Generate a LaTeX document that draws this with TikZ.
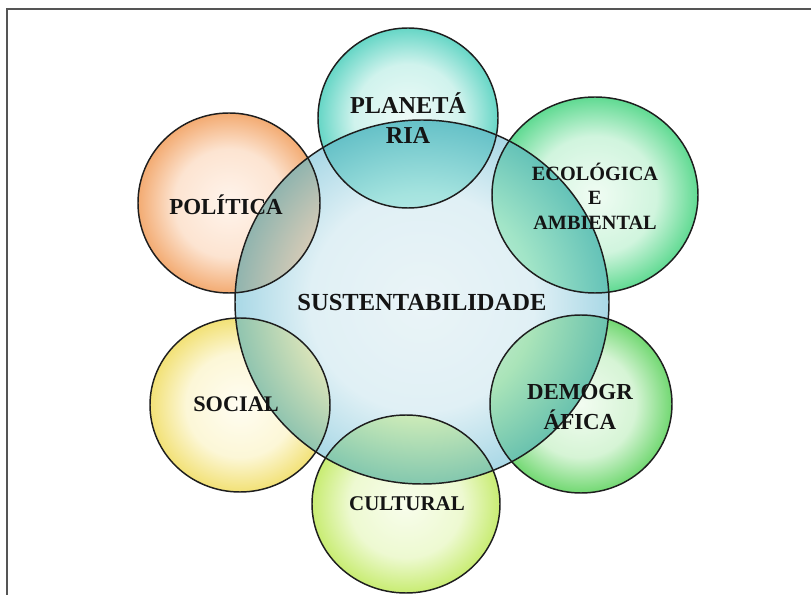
\documentclass[tikz,border=0pt]{standalone}
\usepackage{fontspec}
\setmainfont{Liberation Serif}
\usetikzlibrary{calc}

% glossy sphere fill: pale centre, saturated rim
\pgfdeclareradialshading[glossin,glossmid,glossout]{glossy}{\pgfpoint{0bp}{0bp}}{%
  color(0bp)=(glossin); color(15bp)=(glossmid); color(25bp)=(glossout); color(50bp)=(glossout)}

\definecolor{cenIn}{HTML}{EAF4F7}
\definecolor{cenMid}{HTML}{E0F0F5}
\definecolor{cenOut}{HTML}{A9D8E6}
\definecolor{lapIn}{HTML}{D8EEF3}
\definecolor{lapOut}{HTML}{66B8C8}
\definecolor{frameGray}{HTML}{555555}
\definecolor{rimDark}{HTML}{1E1E1E}

\begin{document}
\begin{tikzpicture}[x=0.75pt,y=0.75pt,
  rim/.style={draw=rimDark, line width=1.1pt},
  lbl/.style={align=center, inner sep=0pt, text=black!92}]
\useasboundingbox (0,0) rectangle (811,-595);
\fill[white] (0,0) rectangle (811,-595);

% page frame (top and left rules)
\draw[frameGray, line width=1.5pt] (7,-595) -- (7,-9) -- (811,-9);

% central disc
\colorlet{glossin}{cenIn}\colorlet{glossmid}{cenMid}\colorlet{glossout}{cenOut}
\fill[shading=glossy] (422,-302) ellipse [x radius=187, y radius=182];

% outer discs: centre x / centre y / x radius / y radius / inner / rim colour
\foreach \cx/\cy/\rx/\ry/\ci/\co in {
   408/118/90/90/EEFBF8/66D6C6,
   595/195/103/98/F0FCF3/60DA92,
   581/404/91/89/F2FCF1/72D872,
   406/504/94/89/F8FDEC/C8EC72,
   240/405/90/87/FFFDF2/F2E176,
   229/203/91/90/FFF4EC/F3AB72}{
  \definecolor{discIn}{HTML}{\ci}
  \definecolor{discOut}{HTML}{\co}
  \colorlet{glossin}{discIn}\colorlet{glossout}{discOut}
  \colorlet{glossmid}{discIn!78!discOut}
  \fill[shading=glossy] (\cx,-\cy) ellipse [x radius=\rx, y radius=\ry];
  % blended tint where the disc lies over the central one
  \begin{scope}
    \clip (\cx,-\cy) ellipse [x radius=\rx, y radius=\ry];
    \colorlet{glossin}{discIn!45!lapIn}
    \colorlet{glossmid}{discOut!45!lapIn}
    \colorlet{glossout}{discOut!30!lapOut}
    \fill[shading=glossy] (422,-302) ellipse [x radius=187, y radius=182];
  \end{scope}
}

% outlines
\draw[rim] (422,-302) ellipse [x radius=187, y radius=182];
\foreach \cx/\cy/\rx/\ry in {408/118/90/90, 595/195/103/98, 581/404/91/89,
                             406/504/94/89, 240/405/90/87, 229/203/91/90}
  \draw[rim] (\cx,-\cy) ellipse [x radius=\rx, y radius=\ry];

% labels
\node[lbl, font=\bfseries\fontsize{18.4}{22}\selectfont] (sust) at (422,-302) {SUSTENTABILIDADE};
\node[lbl, font=\bfseries\fontsize{18.2}{22.5}\selectfont] (plan) at (408,-118) {PLANETÁ\\RIA};
\node[lbl, font=\bfseries\fontsize{15.2}{18.4}\selectfont] (ecol) at (595,-196) {ECOLÓGICA\\E\\AMBIENTAL};
\node[lbl, font=\bfseries\fontsize{17.2}{22.5}\selectfont] (demo) at (580,-407) {DEMOGR\\ÁFICA};
\node[lbl, font=\bfseries\fontsize{15.7}{19}\selectfont] (cult) at (407,-504) {CULTURAL};
\node[lbl, font=\bfseries\fontsize{16.7}{20}\selectfont] (soci) at (236,-404) {SOCIAL};
\node[lbl, font=\bfseries\fontsize{17.2}{20}\selectfont] (poli) at (226,-205) {POLÍTICA};
\end{tikzpicture}
\end{document}
